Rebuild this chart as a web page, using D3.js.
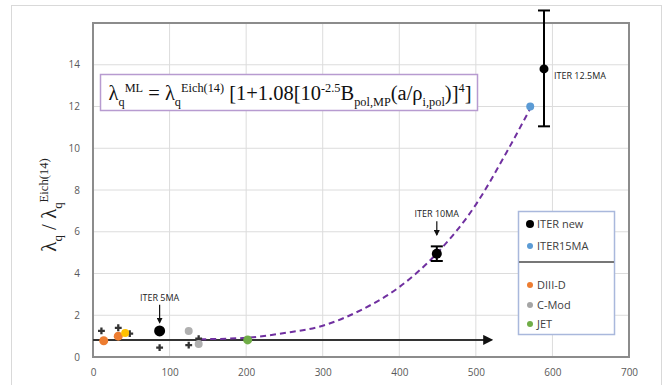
<!DOCTYPE html>
<html>
<head>
<meta charset="utf-8">
<script src="https://cdn.jsdelivr.net/npm/d3@7"></script>
<style>
  body { margin: 0; background: #fff; }
  svg { display: block; }
</style>
</head>
<body>
<svg id="chart"></svg>
<script>
// values
const xTicks = [0, 100, 200, 300, 400, 500, 600, 700];
const yTicks = [0, 2, 4, 6, 8, 10, 12, 14];

const iterNew = [
  { x: 87, y: 1.25, lo: null, hi: null, r: 5.5 },
  { x: 449, y: 4.95, lo: 4.6, hi: 5.3, r: 5 },
  { x: 589, y: 13.8, lo: 11.05, hi: 16.6, r: 4.5 }
];
const iter15 = [{ x: 571, y: 12.0 }];
const diiid = [{ x: 14, y: 0.78 }, { x: 33, y: 1.0 }];
const extraGold = [{ x: 42, y: 1.15 }];
const cmod = [{ x: 125, y: 1.25 }, { x: 138, y: 0.62 }];
const jet = [{ x: 202, y: 0.82 }];
const crosses = [
  { x: 11, y: 1.25 }, { x: 33, y: 1.4 }, { x: 48, y: 1.12 },
  { x: 87, y: 0.45 }, { x: 125, y: 0.57 }, { x: 138, y: 0.88 }
];
const fitCurve = [
  [140, 0.85], [200, 0.92], [250, 1.15], [300, 1.5], [350, 2.25],
  [400, 3.35], [450, 5.0], [500, 7.3], [540, 9.8], [571, 11.9]
];
const arrowLine = [[0, 0.82], [520, 0.82]];
const labels = [
  { text: 'ITER 5MA', x: 87, arrow: [2.5, 1.65] },
  { text: 'ITER 10MA', x: 449, arrow: [6.5, 5.85] }
];
const legendItems = [
  { name: 'ITER new', color: '#000' },
  { name: 'ITER15MA', color: '#5b9bd5' },
  { name: 'DIII-D', color: '#ed7d31' },
  { name: 'C-Mod', color: '#a5a5a5' },
  { name: 'JET', color: '#70ad47' }
];

const W = 665, H = 385;
const svg = d3.select('#chart').attr('width', W).attr('height', H);

svg.append('rect')
    .attr('x', 11.5).attr('y', 5.5)
    .attr('width', 650).attr('height', 385)
    .attr('fill', '#fff')
    .attr('stroke', '#d9d9d9');

const x = d3.scaleLinear().domain([0, 700]).range([93, 629]);
const y = d3.scaleLinear().domain([0, 16]).range([357, 23]);

// grid
svg.append('g')
    .selectAll('line')
    .data(xTicks)
  .enter().append('line')
    .attr('x1', d => x(d)).attr('x2', d => x(d))
    .attr('y1', y(0)).attr('y2', y(16))
    .attr('stroke', '#dcdcdc');
svg.append('g')
    .selectAll('line')
    .data(yTicks.concat([16]))
  .enter().append('line')
    .attr('x1', x(0)).attr('x2', x(700))
    .attr('y1', d => y(d)).attr('y2', d => y(d))
    .attr('stroke', '#dcdcdc');

// axes (labels only)
const xAxis = svg.append('g')
    .attr('transform', `translate(0,${y(0) + 6})`)
    .call(d3.axisBottom(x).tickValues(xTicks).tickSize(0).tickPadding(6));
const yAxis = svg.append('g')
    .attr('transform', `translate(${x(0) - 8},0)`)
    .call(d3.axisLeft(y).tickValues(yTicks).tickSize(0).tickPadding(5));
[xAxis, yAxis].forEach(g => {
  g.select('.domain').remove();
  g.selectAll('text')
      .attr('fill', '#595959')
      .style('font-family', 'Open Sans, Liberation Sans, sans-serif')
      .style('font-size', '10px');
});

// plot border
svg.append('rect')
    .attr('x', x(0)).attr('y', y(16))
    .attr('width', x(700) - x(0)).attr('height', y(0) - y(16))
    .attr('fill', 'none')
    .attr('stroke', '#8c8c8c')
    .attr('stroke-width', 2);

// arrow marker
const defs = svg.append('defs');
defs.append('marker')
    .attr('id', 'head')
    .attr('viewBox', '0 0 10 10')
    .attr('refX', 8).attr('refY', 5)
    .attr('markerWidth', 5).attr('markerHeight', 5)
    .attr('orient', 'auto')
  .append('path')
    .attr('d', 'M0,0L10,5L0,10z')
    .attr('fill', '#111');

const line = d3.line().x(d => x(d[0])).y(d => y(d[1]));

svg.append('path')
    .datum(arrowLine)
    .attr('d', line)
    .attr('stroke', '#333')
    .attr('stroke-width', 2)
    .attr('fill', 'none')
    .attr('marker-end', 'url(#head)');

// fit curve
svg.append('path')
    .datum(fitCurve)
    .attr('d', line.curve(d3.curveMonotoneX))
    .attr('stroke', '#7030a0')
    .attr('stroke-width', 2)
    .attr('stroke-dasharray', '6,4')
    .attr('fill', 'none');

// small markers
const sym = d3.symbol().type(d3.symbolCross).size(26);
svg.append('g')
    .selectAll('path')
    .data(crosses)
  .enter().append('path')
    .attr('d', sym)
    .attr('transform', d => `translate(${x(d.x)},${y(d.y)})`)
    .attr('fill', '#333');

function dots(data, color, r) {
  svg.append('g')
      .selectAll('circle')
      .data(data)
    .enter().append('circle')
      .attr('cx', d => x(d.x))
      .attr('cy', d => y(d.y))
      .attr('r', r)
      .attr('fill', color);
}
dots(cmod, '#b0b0b0', 4);
dots(diiid, '#ed7d31', 4.5);
dots(extraGold, '#ffc000', 4);
dots(jet, '#70ad47', 4.5);
dots(iter15, '#5b9bd5', 4);

// error bars + ITER new
const eb = iterNew.filter(d => d.lo !== null);
svg.append('g')
    .selectAll('line')
    .data(eb)
  .enter().append('line')
    .attr('x1', d => x(d.x)).attr('x2', d => x(d.x))
    .attr('y1', d => y(d.lo)).attr('y2', d => y(d.hi))
    .attr('stroke', '#000').attr('stroke-width', 2);
['lo', 'hi'].forEach(k => {
  svg.append('g')
      .selectAll('line')
      .data(eb)
    .enter().append('line')
      .attr('x1', d => x(d.x) - 6).attr('x2', d => x(d.x) + 6)
      .attr('y1', d => y(d[k])).attr('y2', d => y(d[k]))
      .attr('stroke', '#000').attr('stroke-width', 2);
});
svg.append('g')
    .selectAll('circle')
    .data(iterNew)
  .enter().append('circle')
    .attr('cx', d => x(d.x)).attr('cy', d => y(d.y))
    .attr('r', d => d.r)
    .attr('fill', '#000');

// point labels
const labelFont = 'Open Sans, Liberation Sans, sans-serif';
labels.forEach(l => {
  svg.append('text')
      .attr('x', x(l.x)).attr('y', y(l.arrow[0]) - 4)
      .attr('text-anchor', 'middle')
      .style('font-family', labelFont)
      .style('font-size', '9px')
      .attr('fill', '#222')
      .text(l.text);
  svg.append('line')
      .attr('x1', x(l.x)).attr('x2', x(l.x))
      .attr('y1', y(l.arrow[0])).attr('y2', y(l.arrow[1]))
      .attr('stroke', '#111').attr('stroke-width', 1.2)
      .attr('marker-end', 'url(#head)');
});
svg.append('text')
    .attr('x', x(589) + 10).attr('y', y(13.8) + 10)
    .style('font-family', labelFont)
    .style('font-size', '9px')
    .attr('fill', '#222')
    .text('ITER 12.5MA');

// equation box
svg.append('rect')
    .attr('x', 100.5).attr('y', 74.5)
    .attr('width', 377).attr('height', 36)
    .attr('fill', '#fff')
    .attr('stroke', '#b79bd0')
    .attr('stroke-width', 1.5);

function richText(parent, parts, size) {
  let off = 0;
  parts.forEach(p => {
    const target = p.shift === 'sub' ? size * 0.3 : p.shift === 'sup' ? -size * 0.4 : 0;
    parent.append('tspan')
        .attr('dy', target - off)
        .style('font-size', p.shift ? (size * 0.6) + 'px' : size + 'px')
        .text(p.t);
    off = target;
  });
}
const eq = svg.append('text')
    .attr('x', 290).attr('y', 100)
    .attr('text-anchor', 'middle')
    .style('font-family', 'Liberation Serif, DejaVu Serif, serif')
    .attr('fill', '#111');
richText(eq, [
  { t: 'λ' }, { t: 'q', shift: 'sub' }, { t: 'ML', shift: 'sup' },
  { t: ' = λ' }, { t: 'q', shift: 'sub' }, { t: 'Eich(14)', shift: 'sup' },
  { t: ' [1+1.08[10' }, { t: '-2.5', shift: 'sup' }, { t: 'B' },
  { t: 'pol,MP', shift: 'sub' }, { t: '(a/ρ' }, { t: 'i,pol', shift: 'sub' },
  { t: ')]' }, { t: '4', shift: 'sup' }, { t: ']' }
], 20.5);

// y-axis title
const yt = svg.append('text')
    .attr('transform', 'translate(56,205) rotate(-90)')
    .attr('text-anchor', 'middle')
    .style('font-family', 'Liberation Serif, DejaVu Serif, serif')
    .attr('fill', '#222');
richText(yt, [
  { t: 'λ' }, { t: 'q', shift: 'sub' }, { t: ' / λ' }, { t: 'q', shift: 'sub' },
  { t: 'Eich(14)', shift: 'sup' }
], 21);

// legend
const lg = svg.append('g');
lg.append('rect')
    .attr('x', 518.5).attr('y', 211.5)
    .attr('width', 96).attr('height', 123)
    .attr('fill', '#fff')
    .attr('stroke', '#a9b8dc')
    .attr('stroke-width', 1.5);
lg.append('line')
    .attr('x1', 519).attr('x2', 614)
    .attr('y1', 262).attr('y2', 262)
    .attr('stroke', '#777').attr('stroke-width', 2);
const legY = [224, 246, 285, 305, 324];
legendItems.forEach((d, i) => {
  lg.append('circle')
      .attr('cx', 530).attr('cy', legY[i])
      .attr('r', i === 0 ? 4 : 3)
      .attr('fill', d.color);
  lg.append('text')
      .attr('x', 537).attr('y', legY[i] + 4)
      .style('font-family', labelFont)
      .style('font-size', '11px')
      .attr('fill', '#404040')
      .text(d.name);
});
</script>
</body>
</html>
